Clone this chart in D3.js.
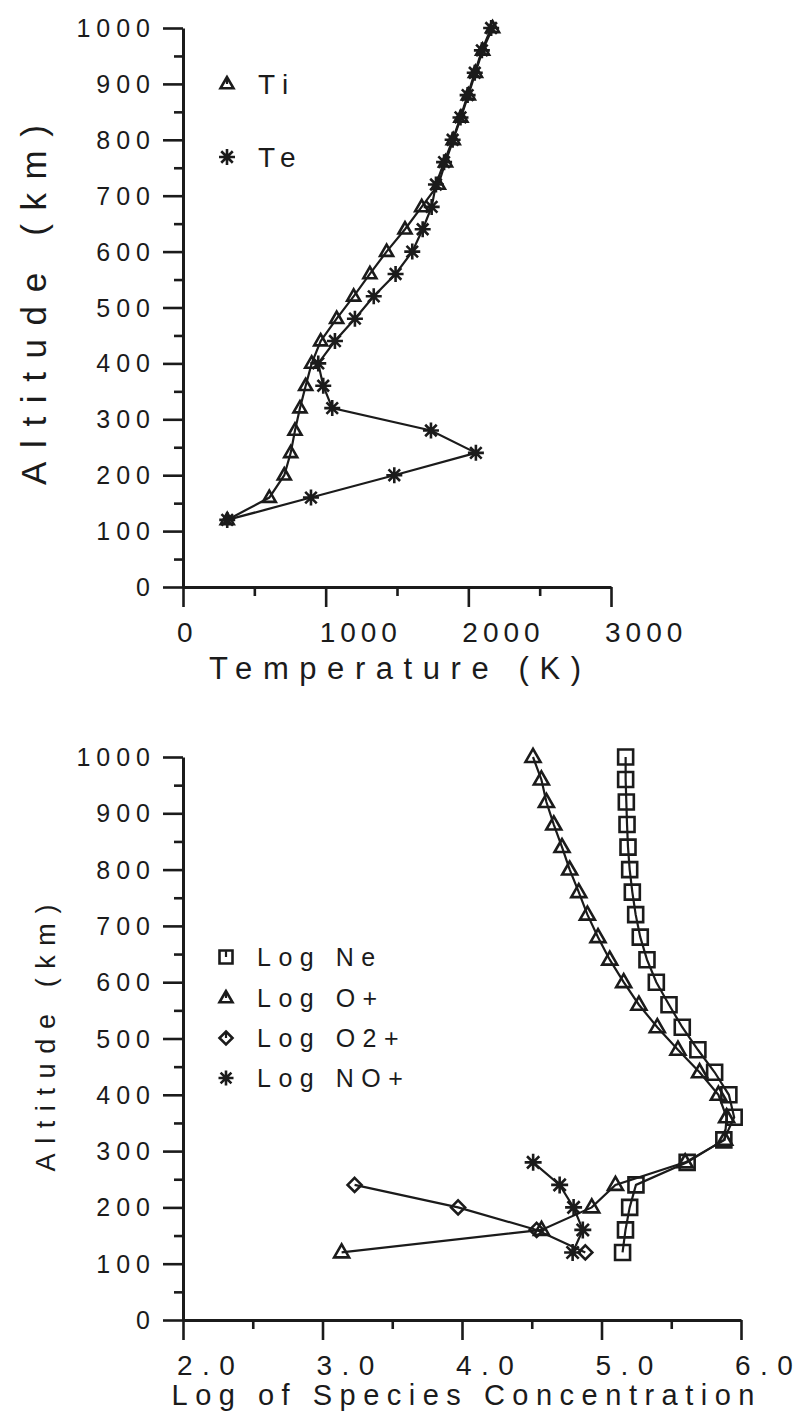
<!DOCTYPE html>
<html><head><meta charset="utf-8">
<script src="https://cdn.jsdelivr.net/npm/d3@7"></script>
<style>
body{margin:0;background:#fff}
svg{display:block}
text{font-family:"Liberation Sans",Arial,sans-serif;fill:#1b1b1b}
</style>
</head><body>
<svg id="c" width="801" height="1416"></svg>
<script>
// ---------- data ----------
const altTemp = [120,160,200,240,280,320,360,400,440,480,520,560,600,640,680,720,760,800,840,880,920,960,1000];
const tiValues = [310,605,710,755,785,820,860,902,965,1077,1196,1310,1427,1556,1673,1790,1840,1894,1948,2000,2050,2100,2170];
const teValues = [310,897,1481,2053,1738,1046,983,948,1065,1205,1337,1490,1607,1680,1743,1773,1830,1890,1945,1995,2045,2095,2160];

const altSpecies = [120,160,200,240,280,320,360,400,440,480,520,560,600,640,680,720,760,800,840,880,920,960,1000];
const logNe = [5.151,5.172,5.202,5.247,5.614,5.877,5.951,5.913,5.811,5.691,5.579,5.484,5.393,5.326,5.278,5.245,5.221,5.202,5.190,5.183,5.178,5.173,5.173];
const logOp = [3.137,4.570,4.930,5.100,5.600,5.883,5.897,5.838,5.703,5.548,5.400,5.268,5.159,5.059,4.975,4.899,4.837,4.772,4.717,4.658,4.605,4.569,4.509];
const altO2p = [120,160,200,240];
const logO2p = [4.884,4.535,3.972,3.230];
const altNOp = [120,160,200,240,280];
const logNOp = [4.793,4.866,4.800,4.700,4.510];

const altTicks = [0,100,200,300,400,500,600,700,800,900,1000];
const altMinor = [50,150,250,350,450,550,650,750,850,950];
const tempTicks = [0,1000,2000,3000];
const tempMinor = [500,1500,2500];
const concTicks = [2,3,4,5,6];
const concMinor = [2.5,3.5,4.5,5.5];

const INK = "#1b1b1b";
const svg = d3.select("#c");

// ---------- marker shapes ----------
function markerPath(type, s) {
  const p = d3.path();
  if (type === "tri") {
    const h = s * 0.87;
    p.moveTo(0, -h*0.62); p.lineTo(-s/2, h*0.38); p.lineTo(s/2, h*0.38); p.closePath();
  } else if (type === "sq") {
    p.rect(-s/2, -s/2, s, s);
  } else if (type === "dia") {
    p.moveTo(0,-s/2); p.lineTo(s/2,0); p.lineTo(0,s/2); p.lineTo(-s/2,0); p.closePath();
  } else if (type === "star") {
    const r = s/2, k = r*0.72;
    p.moveTo(0,-r); p.lineTo(0,r);
    p.moveTo(-r,0); p.lineTo(r,0);
    p.moveTo(-k,-k); p.lineTo(k,k);
    p.moveTo(-k,k); p.lineTo(k,-k);
  }
  return p.toString();
}

// ---------- axis helper ----------
function drawAxes(g, x, y, xTicks, xMinor, yTicks, yMinor, xFmt, xSpacing) {
  const yMaj = g.append("g").attr("transform", `translate(${x.range()[0]},0)`)
    .call(d3.axisLeft(y).tickValues(yTicks).tickSize(20).tickSizeOuter(0).tickFormat(""));
  const yMin = g.append("g").attr("transform", `translate(${x.range()[0]},0)`)
    .call(d3.axisLeft(y).tickValues(yMinor).tickSize(9).tickSizeOuter(0).tickFormat(""));
  const xMaj = g.append("g").attr("transform", `translate(0,${y.range()[0]})`)
    .call(d3.axisBottom(x).tickValues(xTicks).tickSize(20).tickSizeOuter(0).tickFormat(""));
  const xMin = g.append("g").attr("transform", `translate(0,${y.range()[0]})`)
    .call(d3.axisBottom(x).tickValues(xMinor).tickSize(9).tickSizeOuter(0).tickFormat(""));
  [yMaj,yMin,xMaj,xMin].forEach(a => {
    a.selectAll("path.domain").attr("stroke", INK).attr("stroke-width", 3);
    a.selectAll(".tick line").attr("stroke", INK).attr("stroke-width", 2.6);
  });
  yMin.select("path.domain").remove();
  xMin.select("path.domain").remove();
  // y tick labels
  g.selectAll("text.ylab").data(yTicks).join("text")
    .attr("class","ylab")
    .attr("x", 156).attr("y", d => y(d) + 9)
    .attr("text-anchor","end")
    .style("font-size","25px").style("letter-spacing","6px")
    .text(d => d);
  // x tick labels
  g.selectAll("text.xlab").data(xTicks).join("text")
    .attr("class","xlab")
    .attr("x", d => x(d) - 6).attr("y", y.range()[0] + 55)
    .attr("text-anchor","start")
    .style("font-size","28px").style("letter-spacing", xSpacing + "px")
    .text(xFmt);
}

function drawSeries(g, xs, ys, x, y, type, size) {
  const pts = xs.map((v,i) => [x(v), y(ys[i])]);
  g.append("path").attr("d", d3.line()(pts))
    .attr("fill","none").attr("stroke",INK).attr("stroke-width",2.2);
  g.selectAll(null).data(pts).join("path")
    .attr("transform", d => `translate(${d[0]},${d[1]})`)
    .attr("d", markerPath(type, size))
    .attr("fill","none").attr("stroke",INK).attr("stroke-width",2.6)
    .attr("stroke-linejoin","miter");
}

function legendItem(g, cx, cy, type, size, label, fs, ls, tx) {
  g.append("path").attr("transform",`translate(${cx},${cy})`)
    .attr("d", markerPath(type, size))
    .attr("fill","none").attr("stroke",INK).attr("stroke-width",2.6);
  if (type !== "star") {
    g.append("line").attr("x1",cx).attr("x2",cx).attr("y1",cy - size*0.45).attr("y2",cy)
      .attr("stroke",INK).attr("stroke-width",2.2);
  }
  g.append("text").attr("x", tx).attr("y", cy + fs*0.36)
    .style("font-size", fs + "px").style("letter-spacing", ls + "px")
    .text(label);
}

// ---------- top chart ----------
const gT = svg.append("g");
const xT = d3.scaleLinear().domain([0,3000]).range([183,611]);
const yT = d3.scaleLinear().domain([0,1000]).range([587,28]);
drawAxes(gT, xT, yT, tempTicks, tempMinor, altTicks, altMinor, d => d, 5);
drawSeries(gT, tiValues, altTemp, xT, yT, "tri", 13);
drawSeries(gT, teValues, altTemp, xT, yT, "star", 16);
legendItem(gT, 227, 84, "tri", 13, "Ti", 28, 8, 258);
legendItem(gT, 227, 157, "star", 16, "Te", 28, 8, 258);
gT.append("text").attr("transform","translate(46,305) rotate(-90)")
  .attr("text-anchor","middle").style("font-size","35px")
  .attr("textLength", 360).attr("lengthAdjust","spacing")
  .text("Altitude (km)");
gT.append("text").attr("x", 395).attr("y", 679)
  .attr("text-anchor","middle").style("font-size","31px")
  .attr("textLength", 372).attr("lengthAdjust","spacing")
  .text("Temperature (K)");

// ---------- bottom chart ----------
const gB = svg.append("g");
const xB = d3.scaleLinear().domain([2,6]).range([183,741]);
const yB = d3.scaleLinear().domain([0,1000]).range([1320,757]);
drawAxes(gB, xB, yB, concTicks, concMinor, altTicks, altMinor, d => d3.format(".1f")(d), 9.5);
drawSeries(gB, logNe, altSpecies, xB, yB, "sq", 15);
drawSeries(gB, logOp, altSpecies, xB, yB, "tri", 15);
drawSeries(gB, logO2p, altO2p, xB, yB, "dia", 14);
drawSeries(gB, logNOp, altNOp, xB, yB, "star", 17);
legendItem(gB, 226, 957, "sq", 13, "Log Ne", 25, 7.5, 257);
legendItem(gB, 226, 998, "tri", 13, "Log O+", 25, 7.5, 257);
legendItem(gB, 226, 1038, "dia", 13, "Log O2+", 25, 7.5, 257);
legendItem(gB, 226, 1078, "star", 15, "Log NO+", 25, 7.5, 257);
gB.append("text").attr("transform","translate(55,1038) rotate(-90)")
  .attr("text-anchor","middle").style("font-size","27px")
  .attr("textLength", 267).attr("lengthAdjust","spacing")
  .text("Altitude (km)");
gB.append("text").attr("x", 463).attr("y", 1405)
  .attr("text-anchor","middle").style("font-size","29px")
  .attr("textLength", 583).attr("lengthAdjust","spacing")
  .text("Log of Species Concentration");
</script>
</body></html>
